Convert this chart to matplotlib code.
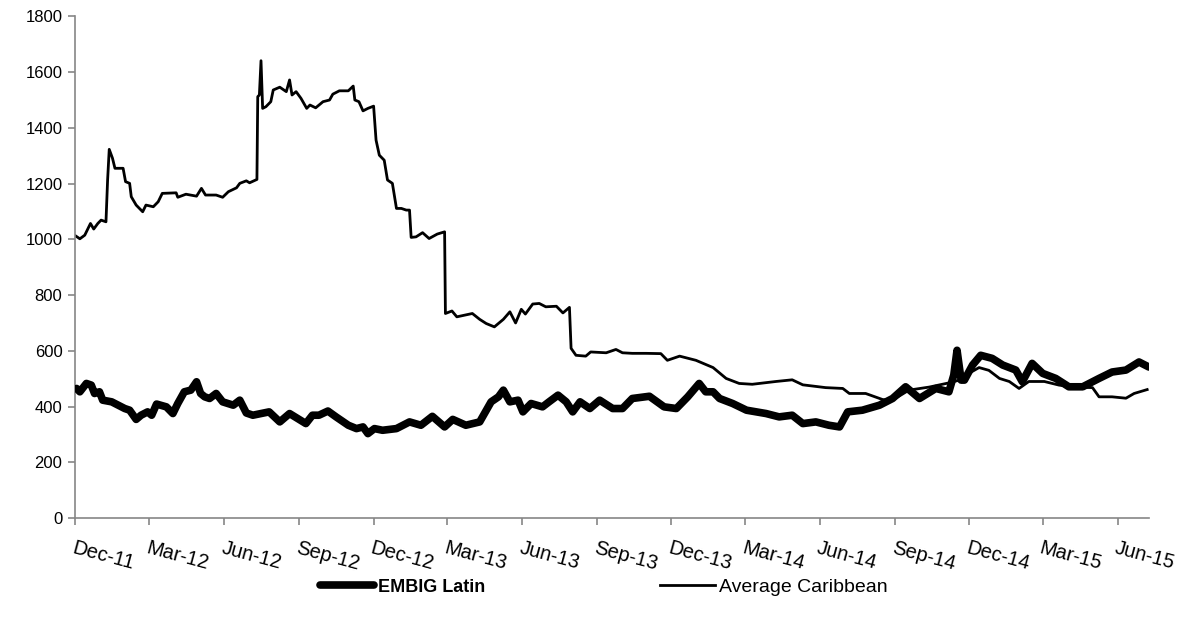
import numpy as np
import pandas as pd
import matplotlib
matplotlib.use('Agg')
import matplotlib.pyplot as plt
import matplotlib.dates as mdates

plt.rcParams['font.family'] = ['Liberation Sans', 'DejaVu Sans']

# EMBIG Latin spread (bps)
embig_dates = [
    '2011-12-03', '2011-12-07', '2011-12-15', '2011-12-21', '2011-12-25', '2011-12-31',
    '2012-01-04', '2012-01-15', '2012-01-23', '2012-01-31', '2012-02-06', '2012-02-14',
    '2012-02-20', '2012-02-28', '2012-03-04', '2012-03-10', '2012-03-22', '2012-03-30',
    '2012-04-05', '2012-04-13', '2012-04-21', '2012-04-28', '2012-05-03', '2012-05-08',
    '2012-05-14', '2012-05-22', '2012-05-30', '2012-06-12', '2012-06-20', '2012-06-28',
    '2012-07-06', '2012-07-26', '2012-08-08', '2012-08-20', '2012-08-30', '2012-09-09',
    '2012-09-17', '2012-09-25', '2012-10-06', '2012-10-16', '2012-10-31', '2012-11-10',
    '2012-11-18', '2012-11-24', '2012-12-02', '2012-12-12', '2012-12-29', '2013-01-14',
    '2013-01-28', '2013-02-11', '2013-02-26', '2013-03-08', '2013-03-24', '2013-04-10',
    '2013-04-24', '2013-05-03', '2013-05-09', '2013-05-17', '2013-05-27', '2013-06-02',
    '2013-06-12', '2013-06-26', '2013-07-04', '2013-07-15', '2013-07-25', '2013-08-02',
    '2013-08-11', '2013-08-23', '2013-09-04', '2013-09-20', '2013-10-02', '2013-10-14',
    '2013-11-04', '2013-11-22', '2013-12-07', '2013-12-21', '2014-01-04', '2014-01-12',
    '2014-01-21', '2014-01-29', '2014-02-14', '2014-03-03', '2014-03-27', '2014-04-12',
    '2014-04-28', '2014-05-11', '2014-05-27', '2014-06-12', '2014-06-25', '2014-07-05',
    '2014-07-23', '2014-08-13', '2014-08-29', '2014-09-14', '2014-10-01', '2014-10-21',
    '2014-11-06', '2014-11-12', '2014-11-16', '2014-11-21', '2014-11-25', '2014-12-05',
    '2014-12-15', '2014-12-29', '2015-01-11', '2015-01-27', '2015-02-04', '2015-02-16',
    '2015-03-01', '2015-03-17', '2015-04-02', '2015-04-19', '2015-05-09', '2015-05-25',
    '2015-06-11', '2015-06-27', '2015-07-09',
]
embig_values = [
    465, 453, 483, 477, 447, 453,
    423, 417, 405, 393, 387, 354,
    369, 381, 369, 409, 399, 375,
    411, 453, 459, 489, 447, 435,
    429, 447, 417, 405, 423, 377,
    369, 381, 345, 375, 357, 339,
    369, 369, 384, 363, 333, 321,
    327, 303, 321, 315, 321, 345,
    333, 365, 327, 354, 333, 345,
    417, 435, 459, 417, 423, 381,
    411, 399, 417, 441, 417, 381,
    417, 393, 423, 393, 393, 429,
    437, 399, 393, 435, 483, 453,
    453, 429, 411, 387, 375, 363,
    369, 339, 345, 333, 327, 381,
    387, 405, 429, 471, 429, 465,
    453, 513, 602, 495, 495, 549,
    584, 573, 549, 531, 489, 555,
    519, 501, 471, 471, 501, 524,
    531, 560, 542,
]

# Average Caribbean spread (bps)
carib_dates = [
    '2011-12-02', '2011-12-07', '2011-12-13', '2011-12-20', '2011-12-24', '2011-12-29',
    '2012-01-02', '2012-01-08', '2012-01-10', '2012-01-12', '2012-01-16', '2012-01-19',
    '2012-01-29', '2012-02-01', '2012-02-06', '2012-02-08', '2012-02-14', '2012-02-22',
    '2012-02-26', '2012-03-06', '2012-03-12', '2012-03-17', '2012-04-03', '2012-04-05',
    '2012-04-15', '2012-04-28', '2012-05-04', '2012-05-09', '2012-05-22', '2012-05-30',
    '2012-06-06', '2012-06-16', '2012-06-20', '2012-06-28', '2012-07-02', '2012-07-11',
    '2012-07-12', '2012-07-14', '2012-07-16', '2012-07-18', '2012-07-22', '2012-07-28',
    '2012-07-31', '2012-08-08', '2012-08-16', '2012-08-20', '2012-08-23', '2012-08-28',
    '2012-09-03', '2012-09-10', '2012-09-14', '2012-09-21', '2012-09-30', '2012-10-08',
    '2012-10-12', '2012-10-20', '2012-10-31', '2012-11-06', '2012-11-08', '2012-11-13',
    '2012-11-18', '2012-11-24', '2012-12-01', '2012-12-04', '2012-12-08', '2012-12-14',
    '2012-12-18', '2012-12-24', '2012-12-29', '2013-01-04', '2013-01-10', '2013-01-14',
    '2013-01-16', '2013-01-22', '2013-01-30', '2013-02-07', '2013-02-17', '2013-02-26',
    '2013-02-27', '2013-03-07', '2013-03-13', '2013-04-01', '2013-04-10', '2013-04-18',
    '2013-04-28', '2013-05-09', '2013-05-17', '2013-05-24', '2013-05-31', '2013-06-05',
    '2013-06-14', '2013-06-22', '2013-06-30', '2013-07-13', '2013-07-21', '2013-07-29',
    '2013-07-31', '2013-08-06', '2013-08-18', '2013-08-24', '2013-09-12', '2013-09-24',
    '2013-10-02', '2013-10-14', '2013-10-31', '2013-11-18', '2013-11-26', '2013-12-11',
    '2013-12-31', '2014-01-21', '2014-02-06', '2014-02-22', '2014-03-10', '2014-04-08',
    '2014-04-28', '2014-05-11', '2014-06-08', '2014-06-29', '2014-07-07', '2014-07-27',
    '2014-08-17', '2014-08-29', '2014-09-18', '2014-10-13', '2014-11-06', '2014-11-19',
    '2014-12-01', '2014-12-13', '2014-12-25', '2015-01-07', '2015-01-19', '2015-01-31',
    '2015-02-12', '2015-03-03', '2015-03-21', '2015-04-09', '2015-05-01', '2015-05-09',
    '2015-05-25', '2015-06-11', '2015-06-21', '2015-07-07',
]
carib_values = [
    1012, 1002, 1015, 1057, 1037, 1057,
    1069, 1063, 1213, 1323, 1291, 1255,
    1255, 1207, 1201, 1153, 1123, 1099,
    1123, 1117, 1135, 1165, 1167, 1151,
    1162, 1155, 1183, 1159, 1159, 1151,
    1171, 1185, 1201, 1210, 1203, 1215,
    1512, 1518, 1641, 1470, 1476, 1494,
    1536, 1546, 1530, 1572, 1518, 1530,
    1506, 1470, 1482, 1472, 1494, 1500,
    1521, 1533, 1533, 1550, 1500, 1494,
    1461, 1470, 1478, 1356, 1302, 1284,
    1213, 1201, 1111, 1111, 1105, 1105,
    1007, 1009, 1024, 1003, 1019, 1027,
    734, 743, 722, 734, 713, 698,
    686, 713, 740, 700, 749, 732,
    768, 770, 758, 760, 736, 756,
    609, 584, 581, 596, 593, 605,
    593, 591, 591, 590, 566, 581,
    566, 540, 501, 483, 480, 490,
    496, 478, 468, 465, 447, 447,
    425, 423, 459, 470, 485, 495,
    520, 540, 530, 501, 490, 465,
    490, 490, 477, 470, 468, 435,
    435, 430, 447, 461,
]

embig_dates = pd.to_datetime(embig_dates)
carib_dates = pd.to_datetime(carib_dates)

fig = plt.figure(figsize=(11.88, 6.31), dpi=100)
ax = fig.add_axes([0.0631, 0.179, 0.9039, 0.795])

ax.plot(carib_dates, carib_values, color='black', linewidth=2.0, label='Average Caribbean', zorder=2)
ax.plot(embig_dates, embig_values, color='black', linewidth=5.5, label='EMBIG Latin',
        solid_capstyle='round', solid_joinstyle='round', zorder=3)

ax.set_ylim(0, 1800)
ax.set_yticks(np.arange(0, 1801, 200))
ax.set_xlim(pd.Timestamp('2011-12-01'), pd.Timestamp('2015-07-09'))
ax.xaxis.set_major_locator(mdates.MonthLocator(bymonth=(3, 6, 9, 12)))
ax.xaxis.set_major_formatter(mdates.DateFormatter('%b-%y'))

for side in ('top', 'right'):
    ax.spines[side].set_visible(False)
for side in ('left', 'bottom'):
    ax.spines[side].set_color('#868686')
    ax.spines[side].set_linewidth(1.2)
ax.tick_params(axis='both', colors='#868686', length=5, width=1.2, labelcolor='black')
ax.tick_params(axis='y', labelsize=12, pad=4)
ax.tick_params(axis='x', labelsize=14.5, pad=10)
for lbl in ax.get_xticklabels():
    lbl.set_rotation(-15)
    lbl.set_ha('left')
    lbl.set_va('top')
    lbl.set_rotation_mode('anchor')

handles, labels = ax.get_legend_handles_labels()
leg = fig.legend(handles[::-1], labels[::-1], loc='center', ncol=2, frameon=False,
                 bbox_to_anchor=(0.508, 1 - 587 / 631), fontsize=14,
                 handlelength=2.8, handletextpad=0.2, columnspacing=9.0)
leg.get_texts()[0].set_fontweight('bold')
leg.get_texts()[0].set_fontsize(13)

fig.savefig('out.png', dpi=100)
